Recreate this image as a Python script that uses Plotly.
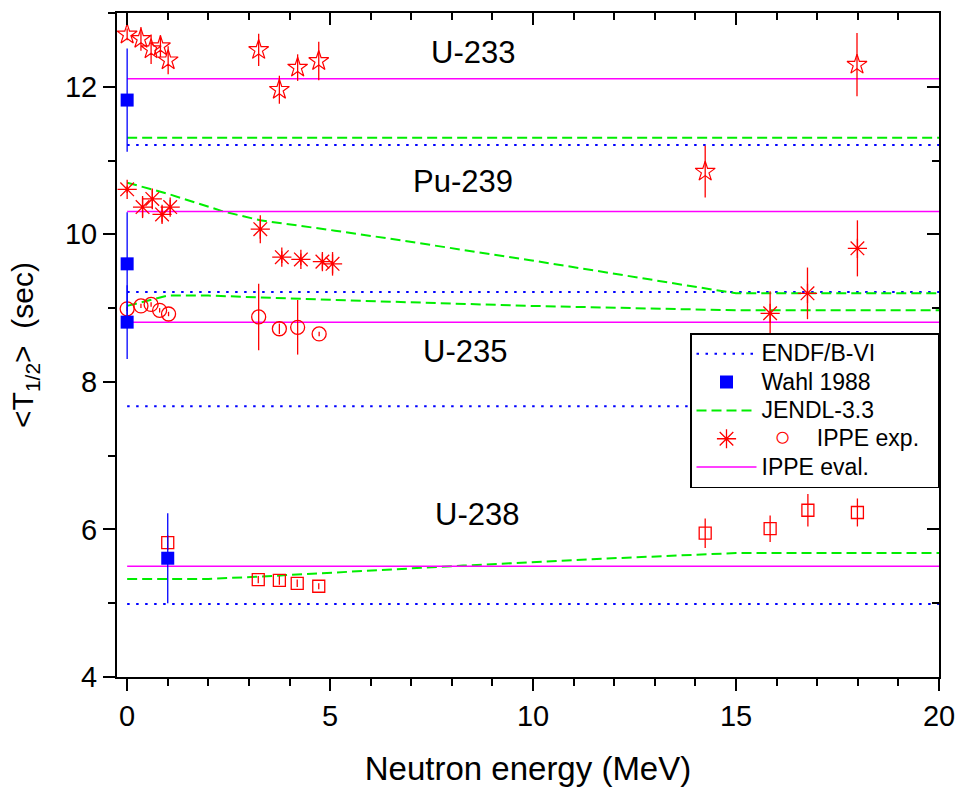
import plotly.graph_objects as go

# ---------------- data ----------------
# IPPE experimental points
u233_x = [0.0, 0.34, 0.59, 0.82, 1.01, 3.24, 3.75, 4.20, 4.72, 14.24, 17.98]
u233_y = [12.71, 12.65, 12.51, 12.55, 12.36, 12.50, 11.96, 12.26, 12.35, 10.85, 12.30]
u233_e = [0.08, 0.16, 0.20, 0.15, 0.19, 0.22, 0.19, 0.18, 0.26, 0.35, 0.43]

pu239_x = [0.0, 0.38, 0.62, 0.86, 1.06, 3.28, 3.81, 4.28, 4.81, 5.06, 15.84, 16.76, 17.99]
pu239_y = [10.61, 10.37, 10.48, 10.27, 10.37, 10.07, 9.69, 9.66, 9.63, 9.60, 8.93, 9.20, 9.81]
pu239_e = [0.05, 0.15, 0.14, 0.11, 0.10, 0.19, 0.08, 0.08, 0.11, 0.16, 0.30, 0.35, 0.38]

u235_x = [0.0, 0.34, 0.59, 0.80, 1.02, 3.24, 3.75, 4.20, 4.73]
u235_y = [8.99, 9.03, 9.05, 8.97, 8.92, 8.88, 8.72, 8.74, 8.65]
u235_e = [0.03, 0.03, 0.03, 0.03, 0.03, 0.45, 0.07, 0.37, 0.03]

u238_x = [1.0, 3.23, 3.75, 4.19, 4.72, 14.24, 15.84, 16.77, 17.99]
u238_y = [5.82, 5.32, 5.31, 5.27, 5.23, 5.95, 6.01, 6.26, 6.23]
u238_e = [0.10, 0.05, 0.06, 0.05, 0.04, 0.20, 0.18, 0.22, 0.19]

# Wahl 1988 (U-233, Pu-239, U-235, U-238)
wahl_x = [0.0, 0.0, 0.0, 1.0]
wahl_y = [11.82, 9.60, 8.81, 5.61]
wahl_e = [0.70, 0.70, 0.50, 0.61]

# evaluations: energy span and values (U-233, Pu-239, U-235, U-238)
eval_span = [0.0, 20.0]
endf_vals = [11.21, 9.22, 7.67, 4.99]
ippe_eval_vals = [12.11, 10.31, 8.81, 5.50]

# JENDL-3.3 curves
jendl_u233_x = [0.0, 20.0]
jendl_u233_y = [11.31, 11.31]
jendl_pu239_x = [0.0, 1.0, 2.37, 3.28, 5.12, 6.48, 9.93, 13.21, 15.0, 20.0]
jendl_pu239_y = [10.70, 10.55, 10.31, 10.19, 10.05, 9.94, 9.65, 9.36, 9.20, 9.20]
jendl_u235_x = [0.0, 1.0, 2.0, 5.12, 9.93, 15.0, 20.0]
jendl_u235_y = [9.03, 9.17, 9.17, 9.11, 9.03, 8.97, 8.97]
jendl_u238_x = [0.0, 2.0, 3.23, 5.12, 8.28, 11.57, 15.0, 20.0]
jendl_u238_y = [5.33, 5.33, 5.36, 5.42, 5.51, 5.60, 5.68, 5.68]

labels = ["U-233", "Pu-239", "U-235", "U-238"]
label_x = [8.51, 8.28, 8.33, 8.61]
label_y = [12.46, 10.71, 8.41, 6.20]

legend_names = ["ENDF/B-VI", "Wahl 1988", "JENDL-3.3", "IPPE exp.", "IPPE eval."]

x_range = [-0.25, 20.0]
y_range = [4.0, 13.0]

# ---------------- styles ----------------
RED = "#ff0000"
BLUE = "#0000ff"
GREEN = "#00ee00"
MAGENTA = "#ff00ff"
FONT = "Liberation Sans, Arial, sans-serif"
NB = "\u00a0"


def lg(text):
    return '<span style="font-size:23px">' + text + "</span>"


fig = go.Figure()

# ENDF/B-VI dotted lines
for i, v in enumerate(endf_vals):
    fig.add_trace(go.Scatter(
        x=eval_span, y=[v, v], mode="lines",
        line=dict(color=BLUE, width=2, dash="2.5px,6.5px"),
        name=lg(legend_names[0]), legendgroup="endf", showlegend=(i == 0), legendrank=1))

# JENDL-3.3 dashed curves
for i, (xs, ys) in enumerate([(jendl_u233_x, jendl_u233_y), (jendl_pu239_x, jendl_pu239_y),
                              (jendl_u235_x, jendl_u235_y), (jendl_u238_x, jendl_u238_y)]):
    fig.add_trace(go.Scatter(
        x=xs, y=ys, mode="lines",
        line=dict(color=GREEN, width=2, dash="10px,5px"),
        name=lg(legend_names[2]), legendgroup="jendl", showlegend=(i == 0), legendrank=3))

# IPPE evaluation lines
for i, v in enumerate(ippe_eval_vals):
    fig.add_trace(go.Scatter(
        x=eval_span, y=[v, v], mode="lines",
        line=dict(color=MAGENTA, width=1.5),
        name=lg(legend_names[4]), legendgroup="ippeeval", showlegend=(i == 0), legendrank=5))

err_style = dict(type="data", thickness=1.3, width=0, color=RED)

# IPPE experimental points
fig.add_trace(go.Scatter(
    x=u233_x, y=u233_y, mode="markers",
    error_y=dict(array=u233_e, **err_style),
    marker=dict(symbol="star-open", size=15, color=RED, line=dict(width=1.2, color=RED)),
    showlegend=False))
fig.add_trace(go.Scatter(
    x=pu239_x, y=pu239_y, mode="markers",
    error_y=dict(array=pu239_e, **err_style),
    marker=dict(symbol="asterisk-open", size=16, color=RED, line=dict(width=1.3, color=RED)),
    name=lg(NB * 2 + '<span style="color:#ff0000;font-size:28px">○</span>' + NB * 4
            + legend_names[3] + NB * 2),
    legendgroup="ippeexp", showlegend=True, legendrank=4))
fig.add_trace(go.Scatter(
    x=u235_x, y=u235_y, mode="markers",
    error_y=dict(array=u235_e, **err_style),
    marker=dict(symbol="circle-open", size=14, color=RED, line=dict(width=1.3, color=RED)),
    showlegend=False))
fig.add_trace(go.Scatter(
    x=u238_x, y=u238_y, mode="markers",
    error_y=dict(array=u238_e, **err_style),
    marker=dict(symbol="square-open", size=12, color=RED, line=dict(width=1.3, color=RED)),
    showlegend=False))

# Wahl 1988
fig.add_trace(go.Scatter(
    x=wahl_x, y=wahl_y, mode="markers",
    error_y=dict(type="data", array=wahl_e, thickness=1.3, width=0, color=BLUE),
    marker=dict(symbol="square", size=13, color=BLUE),
    name=lg(legend_names[1]), legendgroup="wahl", showlegend=True, legendrank=2))

# dummy trace for mirrored axes with inward ticks
fig.add_trace(go.Scatter(x=[None], y=[None], xaxis="x2", yaxis="y2",
                         showlegend=False, hoverinfo="skip"))

for t, lx, ly in zip(labels, label_x, label_y):
    fig.add_annotation(x=lx, y=ly, text=t, showarrow=False,
                       font=dict(family=FONT, size=31, color="black"),
                       xanchor="center", yanchor="middle")

axis_common = dict(showgrid=False, zeroline=False, tickcolor="black", tickwidth=2,
                   automargin=False)

fig.update_layout(
    width=962, height=791,
    margin=dict(l=117, r=23, t=13, b=114),
    plot_bgcolor="white", paper_bgcolor="white",
    font=dict(family=FONT, color="black"),
    xaxis=dict(range=x_range, tickmode="linear", tick0=0, dtick=5,
               ticks="outside", ticklen=12, showline=True, mirror=True,
               linecolor="black", linewidth=2,
               minor=dict(dtick=1, tick0=0, ticks="outside", ticklen=7, tickcolor="black", tickwidth=1.5),
               tickfont=dict(size=29, family=FONT),
               title=dict(text="Neutron energy (MeV)", font=dict(size=33, family=FONT), standoff=26),
               **axis_common),
    yaxis=dict(range=y_range, tickmode="linear", tick0=4, dtick=2,
               ticks="outside", ticklen=12, showline=True, mirror=True,
               linecolor="black", linewidth=2,
               minor=dict(dtick=1, tick0=4, ticks="outside", ticklen=7, tickcolor="black", tickwidth=1.5),
               tickfont=dict(size=29, family=FONT),
               title=dict(text="<T<sub>1/2</sub>>  (sec)", font=dict(size=30, family=FONT), standoff=22),
               **axis_common),
    xaxis2=dict(range=x_range, overlaying="x", side="top", anchor="y", tickmode="linear",
                tick0=0, dtick=5, ticks="inside", ticklen=12, showticklabels=False,
                minor=dict(dtick=1, tick0=0, ticks="inside", ticklen=7, tickcolor="black", tickwidth=1.5),
                showline=False, **axis_common),
    yaxis2=dict(range=y_range, overlaying="y", side="right", anchor="x", tickmode="linear",
                tick0=4, dtick=2, ticks="inside", ticklen=12, showticklabels=False,
                minor=dict(dtick=1, tick0=4, ticks="inside", ticklen=7, tickcolor="black", tickwidth=1.5),
                showline=False, **axis_common),
    legend=dict(x=1.0, xanchor="right", y=0.518, yanchor="top",
                bgcolor="white", bordercolor="black", borderwidth=1.5,
                font=dict(size=19.5, family=FONT), itemwidth=60, tracegroupgap=0,
                traceorder="normal"),
    showlegend=True,
)

fig.write_html("out.html")
